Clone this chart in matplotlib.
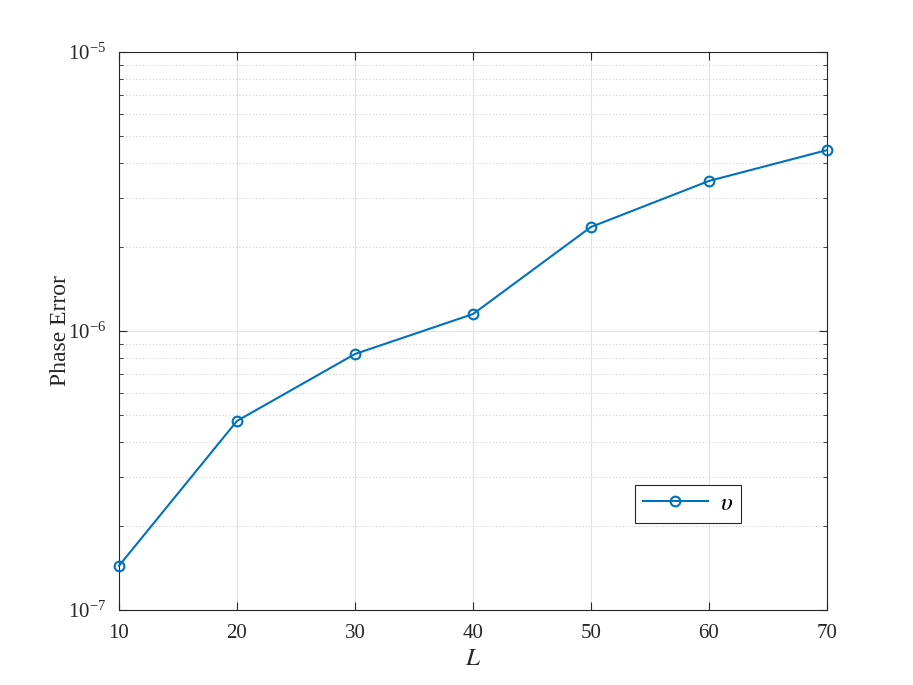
import matplotlib
matplotlib.use('Agg')
import matplotlib.pyplot as plt

# data
L = [10, 20, 30, 40, 50, 60, 70]
phase_err = [1.44e-7, 4.76e-7, 8.27e-7, 1.15e-6, 2.36e-6, 3.45e-6, 4.45e-6]

plt.rcParams['font.family'] = ['Liberation Serif', 'DejaVu Serif']
plt.rcParams['mathtext.fontset'] = 'stix'

fig = plt.figure(figsize=(9.13, 6.85), dpi=100)
ax = fig.add_axes([0.1303, 0.1095, 0.7755, 0.8146])

ax.plot(L, phase_err, '-o', color='#0072BD', lw=1.5, ms=7,
        mfc='none', mew=1.5, label=r'$\upsilon$', clip_on=False, zorder=5)

ax.set_yscale('log')
ax.set_xlim(10, 70)
ax.set_ylim(1e-7, 1e-5)
ax.set_xticks(L)

ax.grid(True, which='major', color='#e3e3e3', lw=0.8, ls='-')
ax.grid(True, which='minor', color='#d0d0d0', lw=0.8, ls=(0, (1, 2)))
ax.set_axisbelow(True)

ax.tick_params(which='both', direction='in', top=True, right=True,
               labelsize=15, colors='#262626')
ax.tick_params(which='major', length=6)
ax.tick_params(which='minor', length=3)
ax.tick_params(axis='x', pad=10)
ax.tick_params(axis='y', pad=9)
for s in ax.spines.values():
    s.set_color('#262626')
    s.set_linewidth(0.8)

ax.set_xlabel(r'$L$', fontsize=18, color='#262626', labelpad=4)
ax.set_ylabel('Phase Error', fontsize=17, color='#262626', labelpad=-2)

leg = ax.legend(loc='center', bbox_to_anchor=(0.804, 0.19), fontsize=18,
                fancybox=False, framealpha=1, edgecolor='#262626',
                handlelength=2.6, handletextpad=0.5, borderpad=0.3)
leg.get_frame().set_linewidth(0.8)

fig.savefig('out.png', dpi=100)
